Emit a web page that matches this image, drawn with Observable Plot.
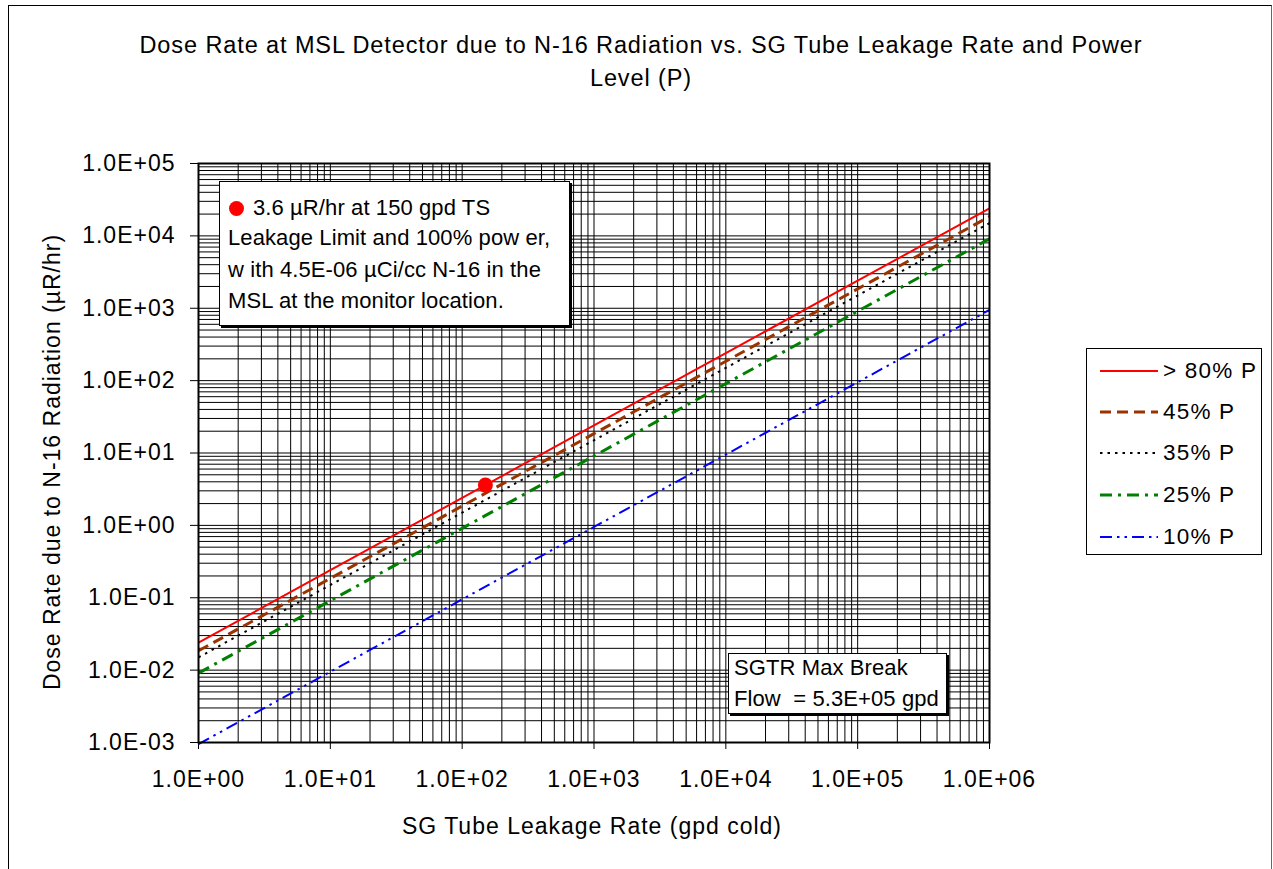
<!DOCTYPE html>
<html>
<head>
<meta charset="utf-8">
<script src="https://cdn.jsdelivr.net/npm/d3@7"></script>
<script src="https://cdn.jsdelivr.net/npm/@observablehq/plot@0.6"></script>
<style>
  html, body { margin: 0; padding: 0; background: #fff; }
  #wrap { position: relative; width: 1273px; height: 869px; overflow: hidden;
          font-family: "Liberation Sans", Arial, sans-serif; color: #000; }
  #wrap svg text { letter-spacing: 1px; }
  .abs { position: absolute; white-space: pre; letter-spacing: 1px; }
  .box { position: absolute; background: #fff; border: 1.5px solid #000; box-shadow: 2px 2px 0 #000; box-sizing: border-box; }
  .box .abs { letter-spacing: 0.1px; }
  .box .leg { letter-spacing: 1.2px; }
</style>
</head>
<body>
<div id="wrap"></div>
<script>
// ---- data ----
const leakage = [1, 10, 100, 1000, 10000, 100000, 1000000];            // gpd cold
const seriesNames = ["> 80% P", "45% P", "35% P", "25% P", "10% P"];
const dose80 = [0.024, 0.24, 2.4, 24, 240, 2400, 24000];                 // µR/hr
const dose45 = [0.0185, 0.185, 1.85, 18.5, 185, 1850, 18500];
const dose35 = [0.015, 0.15, 1.5, 15, 150, 1500, 15000];
const dose25 = [0.0091, 0.091, 0.91, 9.1, 91, 910, 9100];
const dose10 = [0.00095, 0.0095, 0.095, 0.95, 9.5, 95, 950];
const limitLeakage = [150];
const limitDose = [3.6];
const xTickValues = [1, 10, 100, 1000, 10000, 100000, 1000000];
const xTickLabels = ["1.0E+00", "1.0E+01", "1.0E+02", "1.0E+03", "1.0E+04", "1.0E+05", "1.0E+06"];
const yTickValues = [1e-3, 1e-2, 1e-1, 1, 10, 100, 1000, 10000, 100000];
const yTickLabels = ["1.0E-03", "1.0E-02", "1.0E-01", "1.0E+00", "1.0E+01", "1.0E+02", "1.0E+03", "1.0E+04", "1.0E+05"];

// ---- styles ----
const seriesData = [dose80, dose45, dose35, dose25, dose10];
const seriesStyle = [
  {stroke: "#FF0000", strokeWidth: 2,   dash: "none"},
  {stroke: "#993300", strokeWidth: 3,   dash: "11,6"},
  {stroke: "#000000", strokeWidth: 2,   dash: "2.5,5"},
  {stroke: "#008000", strokeWidth: 3,   dash: "12,6,3,6"},
  {stroke: "#0000FF", strokeWidth: 2,   dash: "12,5,2.5,5,2.5,5"}
];

// log minor grid positions (1..9 per decade)
function minorGrid(lo, hi) {
  const out = [];
  for (let e = lo; e < hi; e++) for (let m = 1; m <= 9; m++) out.push(m * Math.pow(10, e));
  out.push(Math.pow(10, hi));
  return out;
}
const xGrid = minorGrid(0, 6);
const yGrid = minorGrid(-3, 5);

const lineMarks = seriesData.map((vals, k) =>
  Plot.line(leakage.map((x, i) => ({x, y: vals[i]})), {
    x: "x", y: "y",
    stroke: seriesStyle[k].stroke,
    strokeWidth: seriesStyle[k].strokeWidth,
    strokeDasharray: seriesStyle[k].dash,
    strokeLinecap: "butt"
  })
);

const chart = Plot.plot({
  width: 1273, height: 869,
  marginLeft: 198, marginRight: 284, marginTop: 163, marginBottom: 127,
  style: {fontFamily: "'Liberation Sans', Arial, sans-serif", fontSize: "23px", color: "#000", background: "transparent", overflow: "visible"},
  x: {type: "log", domain: [1, 1e6], ticks: xTickValues,
      tickFormat: d => xTickLabels[Math.round(Math.log10(d))],
      tickSize: 7, tickPadding: 21, label: null},
  y: {type: "log", domain: [1e-3, 1e5], ticks: yTickValues,
      tickFormat: d => yTickLabels[Math.round(Math.log10(d)) + 3],
      tickSize: 8, tickPadding: 15, label: null},
  marks: [
    Plot.ruleX(xGrid, {stroke: "#000", strokeWidth: 1, strokeOpacity: 1}),
    Plot.ruleY(yGrid, {stroke: "#000", strokeWidth: 1, strokeOpacity: 1}),
    ...lineMarks,
    Plot.dot(limitLeakage.map((x, i) => ({x, y: limitDose[i]})), {x: "x", y: "y", r: 7.5, fill: "#FF0000", stroke: "none"}),
    Plot.frame({stroke: "#000", strokeWidth: 2})
  ]
});
chart.style.position = "absolute";
chart.style.left = "0px";
chart.style.top = "0px";

const wrap = document.getElementById("wrap");
wrap.appendChild(chart);

function addDiv(cls, css, html) {
  const d = document.createElement("div");
  d.className = cls;
  Object.assign(d.style, css);
  if (html !== undefined) d.innerHTML = html;
  wrap.appendChild(d);
  return d;
}

// outer chart border
addDiv("", {position: "absolute", left: "8px", top: "5px", width: "1264px", height: "900px",
  borderTop: "1.5px solid #000", borderLeft: "1.5px solid #000", borderRight: "1.5px solid #666",
  boxSizing: "border-box", pointerEvents: "none"});

// title
addDiv("abs", {left: "641px", top: "45px", transform: "translate(-50%,-50%)", fontSize: "23.5px", letterSpacing: "0.9px"},
  "Dose Rate at MSL Detector due to N-16 Radiation vs. SG Tube Leakage Rate and Power");
addDiv("abs", {left: "641px", top: "78px", transform: "translate(-50%,-50%)", fontSize: "23.5px", letterSpacing: "0.9px"}, "Level (P)");

// axis titles
addDiv("abs", {left: "592px", top: "826px", transform: "translate(-50%,-50%)", fontSize: "23px"},
  "SG Tube Leakage Rate (gpd cold)");
addDiv("abs", {left: "52px", top: "462px", transform: "translate(-50%,-50%) rotate(-90deg)", fontSize: "23px"},
  "Dose Rate due to N-16 Radiation (µR/hr)");

// annotation box
const ann = addDiv("box", {left: "219px", top: "181px", width: "351px", height: "145px"});
const annLines = ["3.6 µR/hr at 150 gpd TS", "Leakage Limit and 100% pow er,", "w ith 4.5E-06 µCi/cc N-16 in the", "MSL at the monitor location."];
const annY = [26, 56, 88, 119];
annLines.forEach((t, i) => {
  const d = document.createElement("div");
  d.className = "abs";
  Object.assign(d.style, {left: (i === 0 ? 33 : 8) + "px", top: annY[i] + "px", transform: "translateY(-50%)", fontSize: "22px"});
  d.textContent = t;
  ann.appendChild(d);
});
const dotEl = document.createElement("div");
Object.assign(dotEl.style, {position: "absolute", left: "9px", top: "19px", width: "15px", height: "15px", borderRadius: "50%", background: "#FF0000"});
ann.appendChild(dotEl);

// SGTR box
const sg = addDiv("box", {left: "728px", top: "653px", width: "219px", height: "61px"});
["SGTR Max Break", "Flow  = 5.3E+05 gpd"].forEach((t, i) => {
  const d = document.createElement("div");
  d.className = "abs";
  Object.assign(d.style, {left: "5px", top: (14 + i * 31) + "px", transform: "translateY(-50%)", fontSize: "22px"});
  d.textContent = t;
  sg.appendChild(d);
});

// legend
const leg = addDiv("box", {left: "1086px", top: "348px", width: "176px", height: "207px", boxShadow: "none"});
const legY = [22, 63, 104, 146, 188];
seriesNames.forEach((name, k) => {
  const ns = "http://www.w3.org/2000/svg";
  const s = document.createElementNS(ns, "svg");
  s.setAttribute("width", "60");
  s.setAttribute("height", "10");
  Object.assign(s.style, {position: "absolute", left: "13px", top: (legY[k] - 5) + "px"});
  const l = document.createElementNS(ns, "line");
  l.setAttribute("x1", "0"); l.setAttribute("x2", "58");
  l.setAttribute("y1", "5"); l.setAttribute("y2", "5");
  l.setAttribute("stroke", seriesStyle[k].stroke);
  l.setAttribute("stroke-width", seriesStyle[k].strokeWidth);
  if (seriesStyle[k].dash !== "none") l.setAttribute("stroke-dasharray", seriesStyle[k].dash);
  s.appendChild(l);
  leg.appendChild(s);
  const d = document.createElement("div");
  d.className = "abs leg";
  Object.assign(d.style, {left: "76px", top: legY[k] + "px", transform: "translateY(-50%)", fontSize: "22.5px"});
  d.textContent = name;
  leg.appendChild(d);
});
</script>
</body>
</html>
